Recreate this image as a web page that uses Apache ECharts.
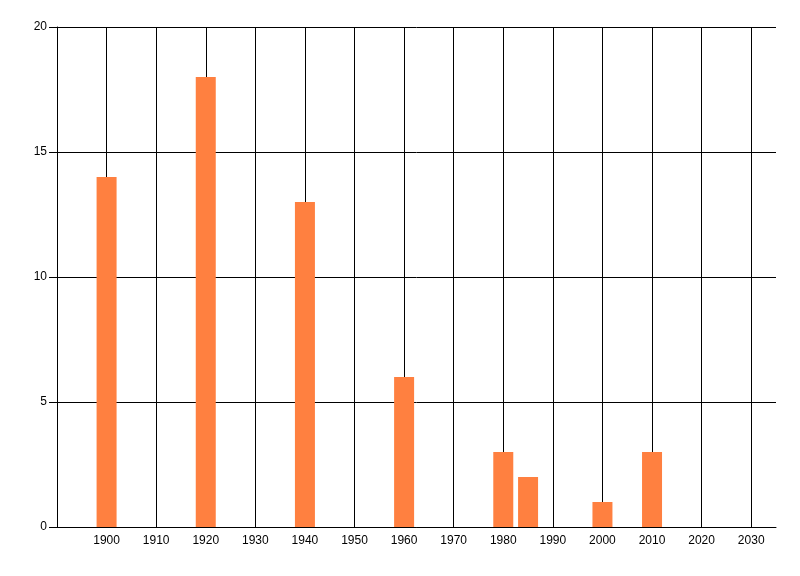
<!DOCTYPE html>
<html>
<head>
<meta charset="utf-8">
<script src="https://cdn.jsdelivr.net/npm/echarts@6/dist/echarts.min.js"></script>
<style>
  html, body { margin: 0; padding: 0; background: #fff; }
  #chart { width: 800px; height: 576px; }
</style>
</head>
<body>
<div id="chart"></div>
<script>
// bars: year -> count
var years = [1900, 1920, 1940, 1960, 1980, 1985, 2000, 2010];
var counts = [14, 18, 13, 6, 3, 2, 1, 3];

var xMin = 1890, xMax = 2035, xStep = 10;
var yMin = 0, yMax = 20, yStep = 5;

var pairs = [];
for (var i = 0; i < years.length; i++) {
  pairs.push([years[i], counts[i]]);
}

var myChart = echarts.init(document.getElementById('chart'));
var option = {
  backgroundColor: '#ffffff',
  animation: false,
  grid: {
    left: 57,
    right: 24,
    top: 27,
    bottom: 49,
    containLabel: false,
    outerBoundsMode: 'none'
  },
  xAxis: {
    type: 'value',
    min: xMin,
    max: xMax,
    interval: xStep,
    axisLine: { show: true, onZero: false, lineStyle: { color: '#000', width: 1 } },
    axisTick: { show: false },
    axisLabel: {
      color: '#000',
      fontFamily: 'Liberation Sans',
      fontSize: 12,
      margin: 8,
      showMinLabel: false,
      showMaxLabel: false,
      formatter: function (v) { return String(v); }
    },
    splitLine: {
      show: true,
      showMinLine: false,
      showMaxLine: false,
      lineStyle: { color: '#000', width: 1 }
    }
  },
  yAxis: {
    type: 'value',
    min: yMin,
    max: yMax,
    interval: yStep,
    axisLine: { show: true, lineStyle: { color: '#000', width: 1 } },
    axisTick: { show: true, length: 8, lineStyle: { color: '#000' } },
    axisLabel: {
      color: '#000',
      fontFamily: 'Liberation Sans',
      fontSize: 12,
      margin: 10
    },
    splitLine: { show: true, lineStyle: { color: '#000', width: 1 } }
  },
  series: [
    {
      type: 'bar',
      data: pairs,
      barWidth: 20,
      itemStyle: { color: '#FF8040' }
    }
  ]
};
myChart.setOption(option);
</script>
</body>
</html>
